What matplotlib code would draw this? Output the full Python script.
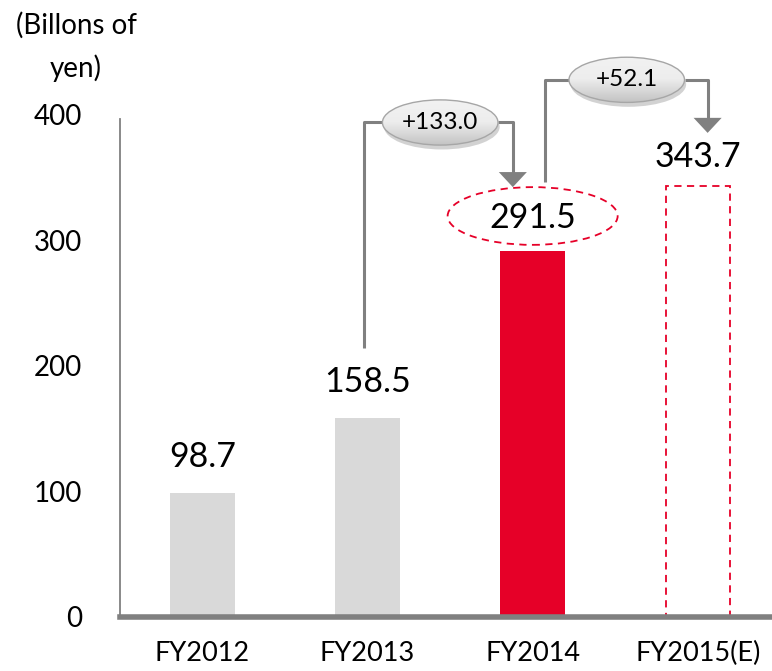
import matplotlib
matplotlib.use("Agg")
import matplotlib.pyplot as plt
from matplotlib.patches import Ellipse, Polygon
import numpy as np

plt.rcParams['font.family'] = ['Lato', 'DejaVu Sans']

categories = ["FY2012", "FY2013", "FY2014", "FY2015(E)"]
values = [98.7, 158.5, 291.5, 343.7]
value_labels = ["98.7", "158.5", "291.5", "343.7"]
changes = ["+133.0", "+52.1"]
yticks = [0, 100, 200, 300, 400]
unit_label = "(Billons of\nyen)"

GRAY_BAR = "#D9D9D9"
RED = "#E60028"
LINE = "#808080"

fig = plt.figure(figsize=(7.72, 6.71), dpi=100)
ax = fig.add_axes([0.1554, 0.0805, 0.8446, 0.9195])
ax.set_xlim(-0.5, 3.45)
ax.set_ylim(0, 491.6)

x = np.arange(len(categories))
w = 0.39
colors = [GRAY_BAR, GRAY_BAR, RED]
ax.bar(x[:3], values[:3], width=w, color=colors, zorder=2)
ax.bar(x[3], values[3], width=w, facecolor="none", edgecolor=RED,
       linestyle=(0, (4, 3)), linewidth=1.3, zorder=2)

# value labels
label_off = [29, 29, 26.5, 23]
for i, (v, lab) in enumerate(zip(values, value_labels)):
    ax.text(x[i], v + label_off[i], lab, ha="center", va="center",
            fontsize=24.5, zorder=5)

# dashed ellipse around FY2014 label
ax.add_patch(Ellipse((x[2], values[2] + 28), 1.03, 46, facecolor="none",
                     edgecolor=RED, linestyle=(0, (4, 3)), linewidth=1.3, zorder=4))

# spines & ticks
for s in ["top", "right"]:
    ax.spines[s].set_visible(False)
ax.spines["left"].set_color(LINE)
ax.spines["left"].set_linewidth(1.3)
ax.spines["left"].set_bounds(0, 397)
ax.spines["bottom"].set_color(LINE)
ax.spines["bottom"].set_linewidth(4)
ax.spines["bottom"].set_zorder(3)
ax.set_yticks(yticks)
ax.set_yticklabels([str(t) for t in yticks], fontsize=20)
ax.tick_params(axis="y", length=0, pad=27)
ax.set_xticks(x)
ax.set_xticklabels(categories, fontsize=19.5)
ax.tick_params(axis="x", length=0, pad=17)

fig.text(76 / 772, 1 - 47 / 671, unit_label, ha="center", va="center",
         fontsize=20, multialignment="center", linespacing=1.7)


def bubble(cx, cy, text):
    bw, bh = 0.70, 36
    ax.add_patch(Ellipse((cx + 0.01, cy - 3.5), bw, bh, facecolor="#B5B5B5",
                         edgecolor="none", alpha=0.6, zorder=6, clip_on=False))
    e = Ellipse((cx, cy), bw, bh, facecolor="none", edgecolor="#A6A6A6",
                linewidth=1.0, zorder=8, clip_on=False)
    ax.add_patch(e)
    grad = np.linspace(1, 0, 64).reshape(-1, 1)
    cmap = matplotlib.colors.LinearSegmentedColormap.from_list(
        "g", ["#C4C4C4", "#EDEDED", "#F2F2F2"])
    img = ax.imshow(grad, cmap=cmap, aspect="auto",
                    extent=(cx - bw / 2, cx + bw / 2, cy - bh / 2, cy + bh / 2),
                    zorder=7)
    img.set_clip_path(e)
    ax.text(cx, cy, text, ha="center", va="center", fontsize=17.5, zorder=9)
    return bw


def connector(x0, y0, x1, y_top, y_tip, cx, bw):
    ax.plot([x0, x0, cx - bw / 2], [y0, y_top, y_top], color=LINE, lw=2.2,
            zorder=5, clip_on=False, solid_capstyle="butt")
    ax.plot([cx + bw / 2, x1, x1], [y_top, y_top, y_tip + 10], color=LINE, lw=2.2,
            zorder=5, clip_on=False, solid_capstyle="butt")
    ax.add_patch(Polygon([[x1 - 0.085, y_tip + 12], [x1 + 0.085, y_tip + 12], [x1, y_tip]],
                         closed=True, facecolor=LINE, edgecolor="none", zorder=5,
                         clip_on=False))


# +133.0
cx1, cy1 = 1.44, 394
bw = bubble(cx1, cy1, changes[0])
connector(x[1] - 0.02, values[1] + 56, x[2] - 0.12, cy1, values[2] + 51, cx1, bw)

# +52.1
cx2, cy2 = 2.57, 428
bw = bubble(cx2, cy2, changes[1])
connector(x[2] + 0.076, values[2] + 55, x[3] + 0.06, cy2, values[3] + 42, cx2, bw)

fig.savefig("out.png", dpi=100)
